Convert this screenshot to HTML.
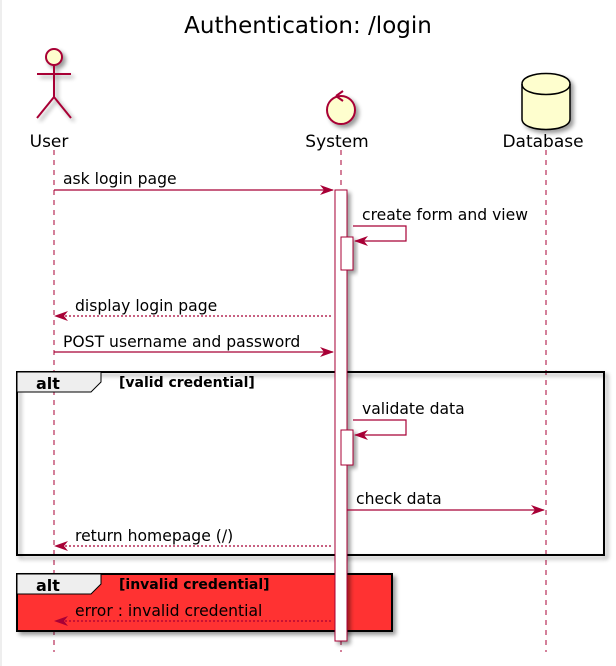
<!DOCTYPE html>
<html><head><meta charset="utf-8"><style>
html,body{margin:0;padding:0;background:#fff;}
svg{display:block;font-family:"DejaVu Sans","Liberation Sans",sans-serif;}
</style></head><body>
<svg width="616" height="666" viewBox="0 0 616 666" xmlns="http://www.w3.org/2000/svg">
<defs>
<filter id="sh" x="-20%" y="-20%" width="150%" height="150%"><feGaussianBlur in="SourceAlpha" stdDeviation="2"/><feOffset dx="3" dy="3"/><feComponentTransfer><feFuncA type="linear" slope="0.4"/></feComponentTransfer><feMerge><feMergeNode/><feMergeNode in="SourceGraphic"/></feMerge></filter>
</defs>
<rect x="0" y="0" width="2" height="666" fill="#eeeeee"/>
<text x="308" y="33" font-size="23" text-anchor="middle" fill="#000">Authentication: /login</text>

<g stroke="#A80036" stroke-dasharray="5,5" stroke-width="1">
<line x1="54" y1="150" x2="54" y2="652"/>
<line x1="341" y1="150" x2="341" y2="652"/>
<line x1="546" y1="150" x2="546" y2="652"/>
</g>

<g filter="url(#sh)" stroke="#A80036" stroke-width="2" fill="#FEFECE">
<circle cx="54" cy="57" r="8"/>
<line x1="54" y1="65" x2="54" y2="97" fill="none"/>
<line x1="37" y1="74" x2="71" y2="74"/>
<line x1="54" y1="97" x2="37" y2="118"/>
<line x1="54" y1="97" x2="71" y2="118"/>
<circle cx="341" cy="110" r="14"/>
</g>
<path d="M336 96 L343 91 M336 96 L343 101" stroke="#A80036" stroke-width="2" fill="none"/>
<g filter="url(#sh)">
<path d="M522 84 C522 70 570 70 570 84 L570 119 C570 133 522 133 522 119 Z" fill="#FEFECE" stroke="#000" stroke-width="1.5"/>
</g>
<path d="M522 84 C522 98 570 98 570 84" fill="none" stroke="#000" stroke-width="1.5"/>
<g font-size="17" fill="#000" text-anchor="middle">
<text x="49" y="147">User</text>
<text x="337" y="147">System</text>
<text x="543" y="147">Database</text>
</g>

<rect x="17" y="372" width="587" height="183" fill="none" stroke="#000" stroke-width="2" filter="url(#sh)"/>
<path d="M17 372 L101 372 L101 382 L91 392 L17 392 Z" fill="#EEEEEE" stroke="#000" stroke-width="1"/>
<text x="36" y="389" font-size="16" font-weight="bold">alt</text>
<text x="119" y="387" font-size="14" font-weight="bold">[valid credential]</text>

<rect x="17" y="574" width="375" height="57" fill="#FF3333" stroke="#000" stroke-width="2" filter="url(#sh)"/>
<path d="M17 574 L101 574 L101 584 L91 594 L17 594 Z" fill="#EEEEEE" stroke="#000" stroke-width="1"/>
<text x="36" y="591" font-size="16" font-weight="bold">alt</text>
<text x="119" y="589" font-size="14" font-weight="bold">[invalid credential]</text>

<g filter="url(#sh)" stroke="#A80036" stroke-width="1" fill="#fff">
<rect x="335" y="190" width="12" height="451"/>
<rect x="341" y="237" width="12" height="33"/>
<rect x="341" y="430" width="12" height="35"/>
</g>

<g stroke="#A80036" stroke-width="1.2" fill="none">
<line x1="54" y1="190" x2="333" y2="190"/>
<polyline points="353,226 406,226 406,241 355,241"/>
<line x1="57" y1="316" x2="333" y2="316" stroke-dasharray="2,2"/>
<line x1="54" y1="352" x2="333" y2="352"/>
<polyline points="353,420 406,420 406,435 355,435"/>
<line x1="347" y1="510" x2="544" y2="510"/>
<line x1="57" y1="546" x2="333" y2="546" stroke-dasharray="2,2"/>
<line x1="57" y1="621" x2="333" y2="621" stroke-dasharray="2,2"/>
</g>
<g fill="#A80036">
<path d="M334 190 L320 185 L324 190 L320 195 Z"/>
<path d="M354 241 L368 236 L364 241 L368 246 Z"/>
<path d="M54 316 L68 311 L64 316 L68 321 Z"/>
<path d="M334 352 L320 347 L324 352 L320 357 Z"/>
<path d="M354 435 L368 430 L364 435 L368 440 Z"/>
<path d="M545 510 L531 505 L535 510 L531 515 Z"/>
<path d="M54 546 L68 541 L64 546 L68 551 Z"/>
<path d="M54 621 L68 616 L64 621 L68 626 Z"/>
</g>
<g font-size="15.6" fill="#000">
<text x="63" y="184">ask login page</text>
<text x="362" y="220">create form and view</text>
<text x="75" y="311">display login page</text>
<text x="63" y="347">POST username and password</text>
<text x="362" y="414">validate data</text>
<text x="356" y="504">check data</text>
<text x="75" y="541">return homepage (/)</text>
<text x="75" y="616">error : invalid credential</text>
</g>
</svg>
</body></html>
